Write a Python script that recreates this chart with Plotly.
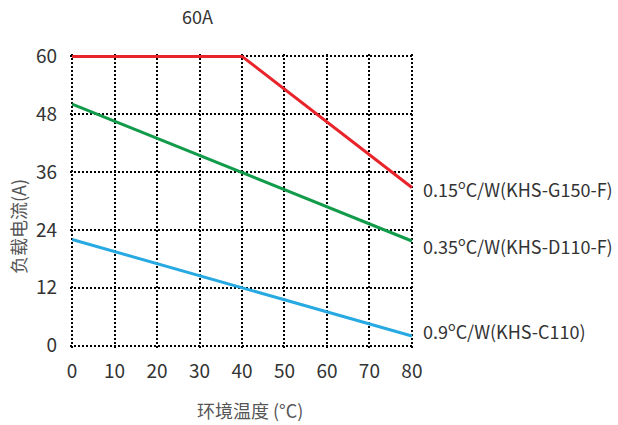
import plotly.graph_objects as go

temps_red = [0, 40, 80]
current_red = [60, 60, 32.8]
temps_green = [0, 80]
current_green = [50.1, 21.7]
temps_blue = [0, 80]
current_blue = [22.0, 2.0]

labels = ["0.15<sup>o</sup>C/W(KHS-G150-F)", "0.35<sup>o</sup>C/W(KHS-D110-F)", "0.9<sup>o</sup>C/W(KHS-C110)"]
label_y = [32.7, 20.9, 3.3]
x_ticks = [0, 10, 20, 30, 40, 50, 60, 70, 80]
y_ticks = [0, 12, 24, 36, 48, 60]

FONT = "Noto Sans CJK SC"
colors = ["#e8232a", "#129b4a", "#27a9e1"]

W, H = 618, 425
L, R, T, B = 70, 204, 54, 77
PW, PH = W - L - R, H - T - B


def px(xp):
    return (xp - L) / PW


def py(yp):
    return (H - B - yp) / PH


fig = go.Figure()
for xs, ys, c in [(temps_red, current_red, colors[0]),
                  (temps_green, current_green, colors[1]),
                  (temps_blue, current_blue, colors[2])]:
    fig.add_trace(go.Scatter(x=xs, y=ys, mode="lines", line=dict(color=c, width=3),
                             showlegend=False, hoverinfo="skip"))

for t, yv in zip(labels, label_y):
    fig.add_annotation(x=80, y=yv, xref="x", yref="y", text=t, showarrow=False,
                       xanchor="left", yanchor="middle", xshift=9,
                       font=dict(family=FONT, size=18, color="#333333"))

fig.add_annotation(x=px(197), y=py(16), xref="paper", yref="paper", text="60A", showarrow=False,
                   xanchor="center", yanchor="middle",
                   font=dict(family=FONT, size=18, color="#333333"))
fig.add_annotation(x=px(250), y=py(410), xref="paper", yref="paper", text="环境温度 (°C)", showarrow=False,
                   xanchor="center", yanchor="middle",
                   font=dict(family=FONT, size=18, color="#555555"))
fig.add_annotation(x=px(18), y=py(227), xref="paper", yref="paper", text="负载电流(A)", showarrow=False,
                   xanchor="center", yanchor="middle", textangle=-90,
                   font=dict(family=FONT, size=18, color="#555555"))

fig.update_layout(
    width=W, height=H,
    margin=dict(l=L, r=R, t=T, b=B, autoexpand=False),
    paper_bgcolor="white", plot_bgcolor="white",
    font=dict(family=FONT, color="#333333"),
    xaxis=dict(range=[-0.5, 80.5], tickvals=x_ticks, showgrid=True, automargin=False,
               gridcolor="black", griddash="2px,2px", gridwidth=2,
               zeroline=False, showline=False, ticks="", ticklabelstandoff=10,
               tickfont=dict(family=FONT, size=19, color="#333333")),
    yaxis=dict(range=[-0.5, 60.5], tickvals=y_ticks, showgrid=True, automargin=False,
               gridcolor="black", griddash="2px,2px", gridwidth=2,
               zeroline=False, showline=False, ticks="", ticklabelstandoff=12,
               tickfont=dict(family=FONT, size=19, color="#333333")),
)
fig.write_html("out.html", config={"displayModeBar": False},
               post_script="document.body.style.margin='0';")
